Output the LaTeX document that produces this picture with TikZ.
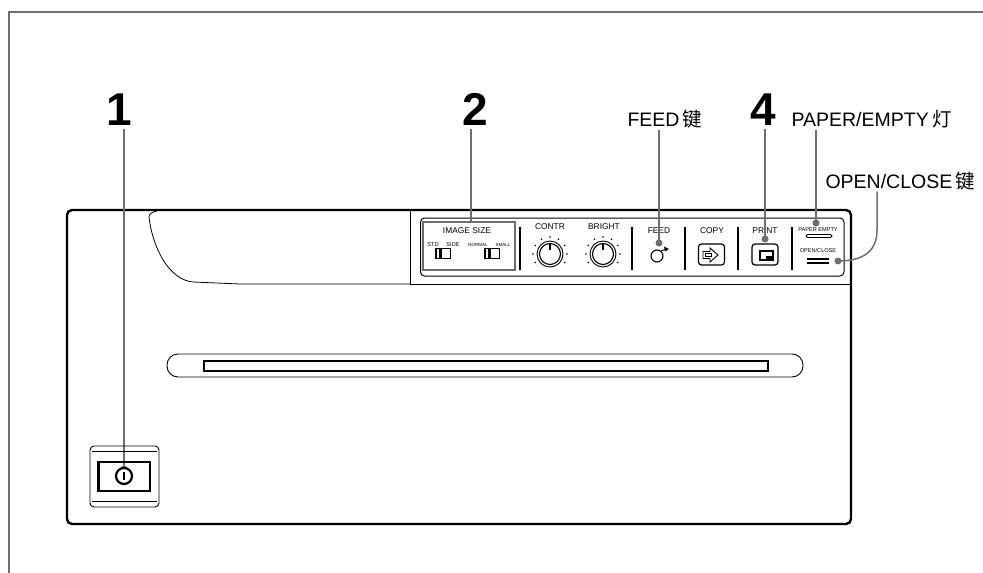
\documentclass[tikz,border=0pt]{standalone}
\usepackage{fontspec}
\setmainfont{Liberation Sans}
\newfontfamily\cjk{Noto Sans CJK SC}
\usetikzlibrary{calc}
\definecolor{leadgray}{HTML}{6E6E6E}
\tikzset{
  num/.style={anchor=base west, text depth=0pt, font=\fontsize{46}{46}\selectfont\bfseries},
  lab/.style={anchor=base west, text depth=0pt, font=\fontsize{19.5}{22}\selectfont},
  pan/.style={anchor=base, inner sep=0pt, font=\fontsize{8.4}{9}\selectfont},
  tiny/.style={anchor=base, inner sep=0pt, font=\fontsize{5.6}{6}\selectfont},
  leader/.style={draw=leadgray, line width=1.5pt},
  ldot/.style={circle, fill=leadgray, inner sep=0pt, minimum size=7pt},
  sep/.style={line width=1.8pt},
  keybox/.style={draw, line width=1.2pt, rounded corners=3pt, minimum width=26pt, minimum height=21pt, inner sep=0pt}
}
\begin{document}
\begin{tikzpicture}[x=1pt,y=-1pt]
\useasboundingbox (0,0) rectangle (983,573);
% page frame
\draw[leadgray, line width=1.3pt] (9,573) -- (9,12) -- (983,12);
% body
\draw[line width=2.4pt, rounded corners=5pt] (67,210) rectangle (851,524);
% tray
\draw[line width=.8pt] (157,211) .. controls (152,212) and (149,214) .. (149,217)
  .. controls (153,250) and (170,280) .. (193,282) -- (240,284) -- (410,284);
% panel
\draw[line width=.9pt] (410,210) -- (410,284) -- (851,284);
\draw[line width=1pt, rounded corners=4pt] (420.5,218) rectangle (844,276);
% paper slot
\draw[line width=.9pt, rounded corners=11pt] (167,354) rectangle (803,377);
\draw[line width=1.7pt] (204,361) rectangle (768,371);
% separators
\foreach \sx in {520,632,685,738,792}
  \draw[sep] (\sx,227) -- (\sx,270);
% panel texts
\node[pan] (tsize) at (467,233) {IMAGE SIZE};
\node[pan] (tcontr) at (550,229) {CONTR};
\node[pan] (tbright) at (604,229) {BRIGHT};
\node[pan] (tfeed) at (659,233) {FEED};
\node[pan] (tcopy) at (712,233) {COPY};
\node[pan] (tprint) at (765,233) {PRINT};
\node[tiny] (tpaper) at (818,231) {PAPER EMPTY};
\node[tiny] (topen) at (818,252) {OPEN/CLOSE};
\node[tiny] (tstd) at (433,246) {STD};
\node[tiny] (tside) at (453,246) {SIDE};
\node[tiny, font=\fontsize{4.5}{5}\selectfont] (tnormal) at (478,246) {NORMAL};
\node[tiny, font=\fontsize{4.5}{5}\selectfont] (tsmall) at (503,246) {SMALL};
% image size switches
\foreach \wx in {435,484} {
  \draw[line width=.9pt] (\wx,248) rectangle (\wx+15,258);
  \fill (\wx,248) rectangle (\wx+2,258);
  \fill (\wx+4,248) rectangle (\wx+6.5,258);
}
% knobs
\foreach \kx in {550,603} {
  \draw[line width=.9pt] (\kx,254) circle (13);
  \draw[line width=1.1pt] (\kx,254) circle (10.5);
  \draw[line width=1.3pt] (\kx,244) -- (\kx,250);
  \foreach \ka in {-30,0,...,210}
    \fill (\kx,254) ++(-\ka:17) circle (.9);
}
% feed key
\draw[line width=1.1pt] (657,256) circle (6);
\draw[line width=.9pt] (661,251) -- (667,249);
\fill (669,249) -- (664,246.5) -- (665,251.5) -- cycle;
% copy key
\node[keybox] (kcopy) at (711.5,254.5) {};
\draw[line width=.9pt] (710,248) -- (718,255) -- (710,262) -- (710,258.5) -- (703,258.5) -- (703,251.5) -- (710,251.5) -- cycle;
\draw[line width=.7pt] (705.5,253) rectangle (711,256.5);
% print key
\node[keybox] (kprint) at (765,254.5) {};
\draw[line width=1.1pt] (760,251) rectangle (773,260);
\fill (766,255.5) rectangle (773,260);
% lamp and open/close
\draw[line width=.8pt, rounded corners=1.5pt] (806,234.5) rectangle (832,237.5);
\draw[line width=1.3pt] (807,259) -- (829,259);
\draw[line width=1.3pt] (807,263) -- (829,263);
% numbers and labels
\node[num] (n1) at (103,125) {1};
\node[num] (n2) at (458.5,125) {2};
\node[num] (n4) at (746.5,125) {4};
\node[lab] (lfeed) at (624,126) {FEED\,{\cjk 键}};
\node[lab] (lpaper) at (788,126) {PAPER/EMPTY\,{\cjk 灯}};
\node[lab] (lopen) at (822,188) {OPEN/CLOSE\,{\cjk 键}};
% leader ends
\node[ldot] (dpower) at (124,469) {};
\coordinate (dsize) at (471,222);
\node[ldot] (dfeed) at (659,243) {};
\node[ldot] (dprint) at (765,239) {};
\node[ldot] (dpaper) at (816,223) {};
\node[ldot] (dopen) at (838,261) {};
% leaders
\draw[leader] (n1.south -| dpower) -- (dpower.center);
\draw[leader] (n2.south -| dsize) -- (dsize);
\draw[leader] (lfeed.south -| dfeed) -- (dfeed.center);
\draw[leader] (n4.south -| dprint) -- (dprint.center);
\draw[leader] (lpaper.south -| dpaper) -- (dpaper.center);
\draw[leader] (lopen.south -| 877,0) -- (877,230) .. controls (877,250) and (865,261) .. (dopen.center);
% image size box
\node[draw=leadgray, line width=1.8pt, minimum width=92pt, minimum height=48pt, inner sep=0pt] (sizebox) at (469,246) {};
% power switch
\draw[line width=.9pt, rounded corners=4pt] (90,446) rectangle (159,507);
\draw[line width=.9pt] (92,451.5) -- (157,451.5);
\draw[line width=.9pt] (92,501.5) -- (157,501.5);
\draw[line width=2.4pt] (98.5,462) rectangle (150,491);
\node[circle, draw, fill=white, line width=2.2pt, minimum size=16pt, inner sep=0pt] (pwr) at (124,476) {};
\draw[line width=1.5pt] (124,472) -- (124,480);
\end{tikzpicture}
\end{document}
